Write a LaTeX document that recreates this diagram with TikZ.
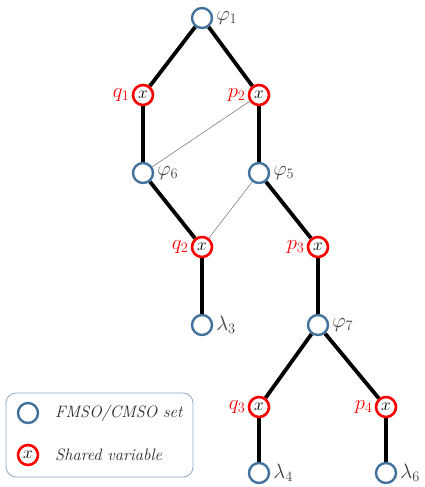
\documentclass[tikz,border=0pt]{standalone}
\usetikzlibrary{backgrounds}
\definecolor{setblue}{HTML}{41719C}
\definecolor{varred}{HTML}{FF0000}
\definecolor{lblgray}{HTML}{404040}
\tikzset{
  setnode/.style={circle,draw=setblue,line width=2.4pt,minimum size=20pt,inner sep=0pt,fill=white},
  varnode/.style={circle,draw=varred,line width=2.6pt,minimum size=20pt,inner sep=0pt,fill=white,font=\fontsize{19}{20}\selectfont},
  slab/.style={text=lblgray,font=\fontsize{22}{24}\selectfont,inner sep=1pt},
  vlab/.style={text=varred,font=\fontsize{22}{24}\selectfont,inner sep=1pt},
  tree/.style={line width=3.8pt,black},
  cross/.style={line width=0.6pt,gray},
  legendbox/.style={draw=setblue!60,line width=0.8pt,rounded corners=10pt},
  legtext/.style={font=\fontsize{16.5}{18}\selectfont\itshape,text=black!85,anchor=west,inner sep=0pt}
}
\begin{document}
\begin{tikzpicture}[x=1pt,y=-1pt]
\useasboundingbox (0,0) rectangle (424,487);
\node[setnode,label={[slab,label distance=2pt]right:$\varphi_1$}] (f1) at (202,18) {};
\node[varnode,label={[vlab,label distance=1pt]left:$q_1$}] (q1) at (143,95) {$x$};
\node[varnode,label={[vlab,label distance=1pt]left:$p_2$}] (p2) at (259,95) {$x$};
\node[setnode,label={[slab,label distance=2pt]right:$\varphi_6$}] (f6) at (143,173) {};
\node[setnode,label={[slab,label distance=2pt]right:$\varphi_5$}] (f5) at (259,173) {};
\node[varnode,label={[vlab,label distance=1pt]left:$q_2$}] (q2) at (202,247) {$x$};
\node[varnode,label={[vlab,label distance=1pt]left:$p_3$}] (p3) at (318,247) {$x$};
\node[setnode,label={[slab,label distance=2pt]right:$\lambda_3$}] (l3) at (202,325) {};
\node[setnode,label={[slab,label distance=2pt]right:$\varphi_7$}] (f7) at (318,325) {};
\node[varnode,label={[vlab,label distance=1pt]left:$q_3$}] (q3) at (259,407) {$x$};
\node[varnode,label={[vlab,label distance=1pt]left:$p_4$}] (p4) at (386,407) {$x$};
\node[setnode,label={[slab,label distance=2pt]right:$\lambda_4$}] (l4) at (259,473) {};
\node[setnode,label={[slab,label distance=2pt]right:$\lambda_6$}] (l6) at (386,473) {};
\begin{pgfonlayer}{background}
\draw[tree] (f1) -- (q1);
\draw[tree] (f1) -- (p2);
\draw[tree] (q1) -- (f6);
\draw[tree] (p2) -- (f5);
\draw[tree] (f6) -- (q2);
\draw[tree] (f5) -- (p3);
\draw[tree] (q2) -- (l3);
\draw[tree] (p3) -- (f7);
\draw[tree] (f7) -- (q3);
\draw[tree] (f7) -- (p4);
\draw[tree] (q3) -- (l4);
\draw[tree] (p4) -- (l6);
\draw[cross] (p2) -- (f6);
\draw[cross] (f5) -- (q2);
\end{pgfonlayer}
% legend
\node[legendbox,minimum width=187pt,minimum height=84pt] (leg) at (99.5,435) {};
\node[setnode] (ls) at (28,413) {};
\node[varnode] (lv) at (28,455) {$x$};
\node[legtext] (lt1) at (55,413) {FMSO/CMSO set};
\node[legtext] (lt2) at (55,455) {Shared variable};
\end{tikzpicture}
\end{document}
